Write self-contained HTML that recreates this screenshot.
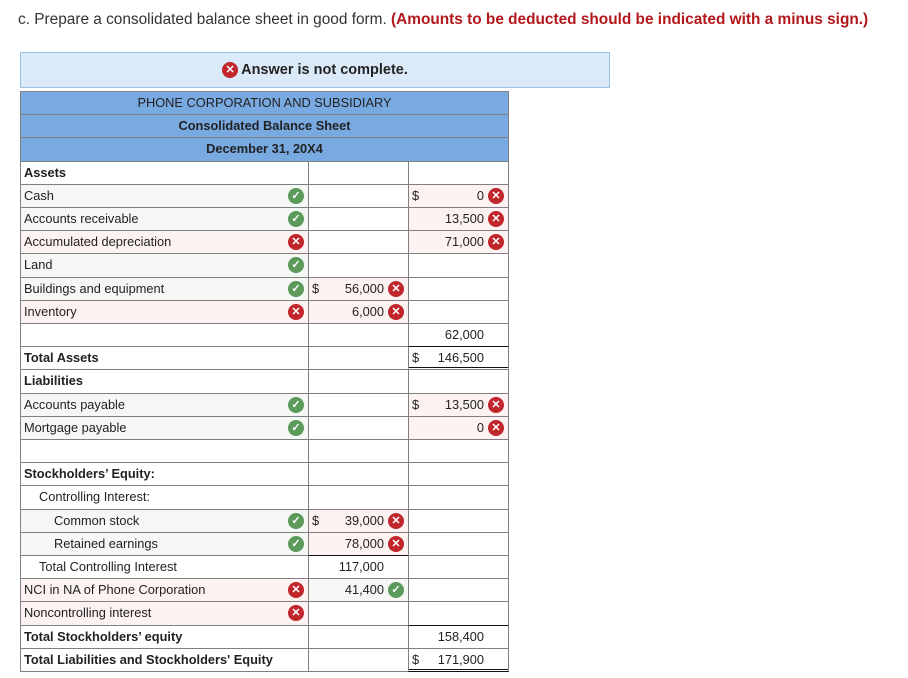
<!DOCTYPE html>
<html><head><meta charset="utf-8"><style>
body{margin:0;width:908px;height:678px;background:#fff;font-family:"Liberation Sans",Arial,sans-serif;position:relative;overflow:hidden;color:#222}
.a{position:absolute;box-sizing:border-box}
.cell{position:absolute;box-sizing:border-box;border:1px solid #808080;font-size:12.8px;line-height:22px;white-space:nowrap}
.ic{position:absolute;width:16px;height:16px;border-radius:50%;color:#fff;font-size:11px;font-weight:bold;line-height:16px;text-align:center}
.ok{background:#5b9a5b}.no{background:#c0262c}
</style></head><body>
<div class="a" style="left:18px;top:11px;font-size:15.4px;color:#333">c. Prepare a consolidated balance sheet in good form. <b style="color:#b3191c">(Amounts to be deducted should be indicated with a minus sign.)</b></div>
<div class="a" style="left:20px;top:52px;width:590px;height:36px;background:#dbeaf8;border:1px solid #9cc3e6;font-size:14.5px;font-weight:bold;color:#222;display:flex;align-items:center;justify-content:center"><span class="ic no" style="position:relative;display:inline-block;margin-right:3px">✕</span>Answer is not complete.</div>
<div id="t"></div>
<script>
const rows=[
["Assets",0,1,"","", "","","","", "","","",""],
["Cash",0,0,"g","ok", "","","","", "$","0","no","p"],
["Accounts receivable",0,0,"g","ok", "","","","", "","13,500","no","p"],
["Accumulated depreciation",0,0,"p","no", "","","","", "","71,000","no","p"],
["Land",0,0,"g","ok", "","","","", "","","",""],
["Buildings and equipment",0,0,"g","ok", "$","56,000","no","p", "","","",""],
["Inventory",0,0,"p","no", "","6,000","no","p", "","","",""],
["",0,0,"","", "","","","", "","62,000","",""],
["Total Assets",0,1,"","", "","","","", "$","146,500","",""],
["Liabilities",0,1,"","", "","","","", "","","",""],
["Accounts payable",0,0,"g","ok", "","","","", "$","13,500","no","p"],
["Mortgage payable",0,0,"g","ok", "","","","", "","0","no","p"],
["",0,0,"","", "","","","", "","","",""],
["Stockholders’ Equity:",0,1,"","", "","","","", "","","",""],
["Controlling Interest:",1,0,"","", "","","","", "","","",""],
["Common stock",2,0,"g","ok", "$","39,000","no","p", "","","",""],
["Retained earnings",2,0,"g","ok", "","78,000","no","p", "","","",""],
["Total Controlling Interest",1,0,"","", "","117,000","","", "","","",""],
["NCI in NA of Phone Corporation",0,0,"p","no", "","41,400","ok","g", "","","",""],
["Noncontrolling interest",0,0,"p","no", "","","","", "","","",""],
["Total Stockholders’ equity",0,1,"","", "","","","", "","158,400","",""],
["Total Liabilities and Stockholders' Equity",0,1,"","", "","","","", "$","171,900","",""]
];
const t=document.getElementById('t');
const bg={g:"#f4f7f3",p:"#fdf2f2","":"#fff"};
const RH=23.2,X0=20,X1=308,X2=408,X3=508,Y0=91;
function mk(x,y,w,h,html,style,name){const d=document.createElement('div');d.className='cell';d.style.cssText=`left:${x}px;top:${y}px;width:${w+1}px;height:${h+1}px;`+style;d.innerHTML=html;


t.appendChild(d);return d;}
const hdr=["PHONE CORPORATION AND SUBSIDIARY","Consolidated Balance Sheet","December 31, 20X4"];
hdr.forEach((h,i)=>{mk(X0,Y0+i*RH,X3-X0,RH,h,"background:#78a9e1;text-align:center;color:#222;"+(i?"font-weight:bold;":""),"header-line");});
function icon(k,x){return k?`<span class="ic ${k}" style="left:${x}px;top:3px">${k=='ok'?'✓':'✕'}</span>`:"";}
const topBlack={"8_2":1,"17_1":1,"20_2":1};
rows.forEach((r,i)=>{const y=Y0+(i+3)*RH;
 mk(X0,y,X1-X0,RH,`<span style="padding-left:${3+r[1]*15}px;${r[2]?'font-weight:bold;':''}">${r[0]}</span>`+icon(r[4],267),"background:"+bg[r[3]],"row-label");
 [[X1,5],[X2,9]].forEach(([x,o],c)=>{const d=r[o],v=r[o+1],ic=r[o+2],b=r[o+3];
  let st="background:"+bg[b]+";";
  if(topBlack[i+"_"+(c+1)])st+="border-top:1px solid #111;";
  if((i==8||i==21)&&c==1)st+="border-bottom:3px double #111;";
  mk(x,y,100,RH,(d?`<span style="position:absolute;left:3px">${d}</span>`:"")+`<span style="position:absolute;right:24px">${v}</span>`+icon(ic,79),st,"amount-cell");});
});
</script>
</body></html>
